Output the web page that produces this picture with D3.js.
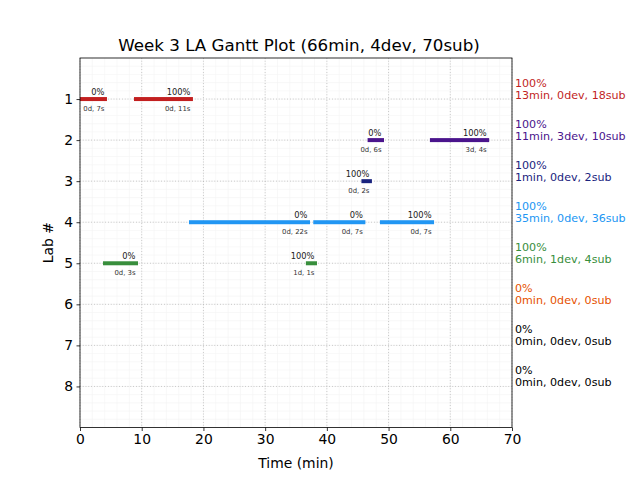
<!DOCTYPE html>
<html><head><meta charset="utf-8">
<script src="https://cdn.jsdelivr.net/npm/d3@7"></script>
<style>body{margin:0;background:#fff}svg{display:block}text{font-family:"DejaVu Sans",sans-serif}</style>
</head><body><svg id="c" width="640" height="480"></svg>
<script>
const title = "Week 3 LA Gantt Plot (66min, 4dev, 70sub)";
const labs = [1,2,3,4,5,6,7,8];
const labColors = ["#c21f1f","#4a148c","#1a237e","#2196f3","#388e3c","#e65100","#000000","#000000"];
const summaryPct = ["100%","100%","100%","100%","100%","0%","0%","0%"];
const summaryText = ["13min, 0dev, 18sub","11min, 3dev, 10sub","1min, 0dev, 2sub","35min, 0dev, 36sub","6min, 1dev, 4sub","0min, 0dev, 0sub","0min, 0dev, 0sub","0min, 0dev, 0sub"];
const segLab   = [1,1,2,2,3,4,4,4,5,5];
const segStart = [0,8.75,46.6,56.7,45.6,17.66,37.8,48.6,3.73,36.6];
const segEnd   = [4.37,18.3,49.26,66.3,47.3,37.27,46.24,57.37,9.4,38.4];
const segPct   = ["0%","100%","0%","100%","100%","0%","0%","100%","0%","100%"];
const segDur   = ["0d, 7s","0d, 11s","0d, 6s","3d, 4s","0d, 2s","0d, 22s","0d, 7s","0d, 7s","0d, 3s","1d, 1s"];
const xTicks = [0,10,20,30,40,50,60,70];

const svg = d3.select("#c");
const L=80,R=512,T=58,B=427.5;
const x = d3.scaleLinear().domain([0,70]).range([L,R]);
const y = d3.scaleLinear().domain([0,9]).range([T,B]);

// minor grid
const g = svg.append("g");
g.selectAll(".mx").data(d3.range(0,70.01,2)).enter().append("line")
 .attr("x1",d=>x(d)).attr("x2",d=>x(d)).attr("y1",T).attr("y2",B)
 .attr("stroke","#f3f3f3").attr("stroke-width",0.6);
g.selectAll(".my").data(d3.range(0,45).map(i=>i*0.2)).enter().append("line")
 .attr("y1",d=>y(d)).attr("y2",d=>y(d)).attr("x1",L).attr("x2",R)
 .attr("stroke","#f3f3f3").attr("stroke-width",0.6);
// major grid
g.selectAll(".gx").data(xTicks).enter().append("line")
 .attr("x1",d=>x(d)).attr("x2",d=>x(d)).attr("y1",T).attr("y2",B)
 .attr("stroke","#b0b0b0").attr("stroke-width",0.8).attr("stroke-dasharray","0.8,2");
g.selectAll(".gy").data(labs).enter().append("line")
 .attr("y1",d=>y(d)).attr("y2",d=>y(d)).attr("x1",L).attr("x2",R)
 .attr("stroke","#b0b0b0").attr("stroke-width",0.8).attr("stroke-dasharray","0.8,2");

// bars
const segs = segLab.map((l,i)=>({lab:l,s:segStart[i],e:segEnd[i],pct:segPct[i],dur:segDur[i]}));
svg.selectAll(".bar").data(segs).enter().append("rect")
 .attr("x",d=>x(d.s)).attr("width",d=>x(d.e)-x(d.s))
 .attr("y",d=>y(d.lab)-2).attr("height",4)
 .attr("fill",d=>labColors[d.lab-1]);
svg.selectAll(".pl").data(segs).enter().append("text")
 .attr("x",d=>x(d.e)-2.5).attr("y",d=>y(d.lab)-4)
 .attr("text-anchor","end").attr("font-size",8.3).attr("fill","#222").text(d=>d.pct);
svg.selectAll(".dl").data(segs).enter().append("text")
 .attr("x",d=>x(d.e)-2.5).attr("y",d=>y(d.lab)+12)
 .attr("text-anchor","end").attr("font-size",6.9).attr("fill","#333").text(d=>d.dur);

// axes
const xAxis = d3.axisBottom(x).tickValues(xTicks).tickSize(3.5).tickPadding(3.5);
const yAxis = d3.axisLeft(y).tickValues(labs).tickSize(3.5).tickPadding(3.5);
const gx = svg.append("g").attr("transform",`translate(0,${B})`).call(xAxis);
const gy = svg.append("g").attr("transform",`translate(${L},0)`).call(yAxis);
[gx,gy].forEach(a=>{a.select(".domain").remove();
 a.selectAll("text").attr("font-size",13.9).attr("font-family","DejaVu Sans").attr("fill","#000");
 a.selectAll("line").attr("stroke","#000").attr("stroke-width",0.8);});
svg.append("rect").attr("x",L).attr("y",T).attr("width",R-L).attr("height",B-T)
 .attr("fill","none").attr("stroke","#000").attr("stroke-width",0.8);

// labels
svg.append("text").attr("x",(L+R)/2+3).attr("y",51).attr("text-anchor","middle")
 .attr("font-size",16.7).text(title);
svg.append("text").attr("x",(L+R)/2).attr("y",468).attr("text-anchor","middle")
 .attr("font-size",13.9).text("Time (min)");
svg.append("text").attr("transform",`translate(53,${(T+B)/2}) rotate(-90)`).attr("text-anchor","middle")
 .attr("font-size",13.9).text("Lab #");

// right summaries
labs.forEach((l,i)=>{
 svg.append("text").attr("x",515).attr("y",y(l)-12).attr("font-size",11.1).attr("fill",labColors[i]).text(summaryPct[i]);
 svg.append("text").attr("x",515).attr("y",y(l)).attr("font-size",11.1).attr("fill",labColors[i]).text(summaryText[i]);
});
</script></body></html>
